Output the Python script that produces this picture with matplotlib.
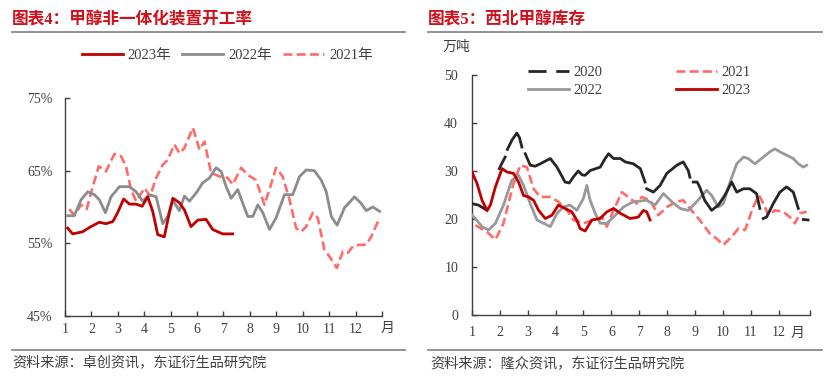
import numpy as np
import matplotlib
matplotlib.use('Agg')
import matplotlib.pyplot as plt
from matplotlib.lines import Line2D

plt.rcParams['font.family'] = ['Liberation Serif', 'Noto Sans CJK SC']
plt.rcParams['axes.unicode_minus'] = False

# ---- left chart: 甲醇非一体化装置开工率 (%) ----
l23_x = [1.10, 1.29, 1.67, 1.98, 2.30, 2.55, 2.81, 2.99, 3.22, 3.44, 3.69, 3.92, 4.13,
         4.32, 4.51, 4.76, 4.95, 5.08, 5.33, 5.52, 5.77, 6.03, 6.34, 6.59, 6.97, 7.35]
l23_y = [57.1, 56.3, 56.6, 57.3, 57.9, 57.7, 58.0, 59.2, 61.1, 60.4, 60.4, 60.1, 61.4,
         59.4, 56.2, 55.9, 59.2, 61.2, 60.6, 59.6, 57.3, 58.2, 58.3, 56.9, 56.3, 56.3]

l22_x = [1.10, 1.35, 1.61, 1.86, 2.11, 2.30, 2.53, 2.74, 3.06, 3.44, 3.69, 3.94, 4.19,
         4.45, 4.70, 4.89, 5.08, 5.33, 5.52, 5.71, 5.96, 6.21, 6.47, 6.72, 6.91, 7.10,
         7.29, 7.54, 7.73, 7.92, 8.11, 8.30, 8.49, 8.74, 8.99, 9.31, 9.62, 9.88, 10.13,
         10.44, 10.70, 10.89, 11.08, 11.30, 11.58, 11.96, 12.21, 12.40, 12.65, 12.91]
l22_y = [58.8, 58.8, 61.0, 62.1, 61.7, 61.0, 59.2, 61.4, 62.8, 62.8, 62.1, 60.8, 61.7,
         61.4, 57.7, 58.7, 60.9, 59.5, 61.5, 60.8, 61.9, 63.3, 64.0, 65.4, 64.9, 62.8,
         61.2, 62.4, 60.5, 58.7, 58.7, 60.3, 59.2, 56.9, 58.5, 61.7, 61.7, 64.2, 65.1,
         65.0, 63.7, 62.1, 58.7, 57.5, 59.9, 61.4, 60.5, 59.5, 60.0, 59.4]

l21_x = [1.16, 1.35, 1.61, 1.82, 2.05, 2.28, 2.55, 2.87, 3.12, 3.31, 3.50, 3.69, 3.82,
         4.01, 4.22, 4.45, 4.70, 4.89, 5.14, 5.33, 5.52, 5.84, 6.09, 6.28, 6.53, 6.85,
         7.16, 7.35, 7.67, 7.92, 8.23, 8.55, 8.74, 8.99, 9.24, 9.50, 9.75, 9.94, 10.13,
         10.38, 10.57, 10.82, 11.01, 11.29, 11.52, 11.71, 11.90, 12.15, 12.40, 12.59, 12.91]
l21_y = [59.7, 58.9, 60.3, 59.7, 62.8, 65.6, 64.9, 67.3, 67.0, 65.6, 62.4, 60.8, 61.5,
         62.6, 61.5, 64.0, 65.8, 66.5, 68.6, 67.4, 68.1, 70.9, 67.9, 69.0, 64.7, 64.2,
         64.0, 63.1, 65.4, 64.4, 63.7, 60.3, 62.4, 65.4, 64.2, 61.0, 57.1, 56.6, 57.3,
         59.2, 58.5, 54.1, 53.2, 51.6, 53.9, 53.7, 54.6, 54.8, 54.8, 55.9, 58.5]

# ---- right chart: 西北甲醇库存 (万吨), nan = break in the 2020 line ----
r20_x = [1.00, 1.23, 1.54, 1.70, 1.98, 2.09, 2.19, 2.23, 2.27, 2.44, 2.61, 2.70, 2.79,
         2.85, 2.91, 3.09, 3.27, 3.45, 3.81, 4.05, 4.34, 4.49, 4.63, 4.81, 4.95, 5.06,
         5.24, 5.60, 5.78, 5.90, 6.08, 6.32, 6.50, 6.79, 7.04, 7.21, 7.24, 7.27, 7.51,
         7.75, 7.99, 8.35, 8.58, 8.76, 8.82, 8.88, 8.94, 9.08, 9.17, 9.35, 9.60, 9.84,
         10.07, 10.32, 10.50, 10.74, 10.97, 11.21, 11.33, 11.39, 11.45, 11.57, 11.81,
         12.05, 12.29, 12.53, 12.71, 12.80, 12.89, 13.06]
r20_y = [23.2, 22.9, 21.8, np.nan, 30.5, 31.8, 32.9, np.nan, 34.5, 36.5, 37.9, 37.0, 35.0,
         np.nan, 33.6, 31.2, 31.0, 31.5, 32.6, 30.8, 27.7, 27.5, 28.7, 30.0, 29.2, 29.1,
         30.1, 30.8, 32.6, 33.6, 32.6, 32.6, 31.9, 31.5, 30.5, 27.7, np.nan, 26.3, 25.6,
         27.0, 29.5, 31.2, 31.9, 30.1, 28.7, np.nan, 27.7, 27.7, 26.7, 23.9, 21.8, 22.9,
         24.9, 27.7, 25.6, 26.3, 26.3, 25.3, 22.2, np.nan, 20.1, 20.4, 23.2,
         25.6, 26.7, 25.6, 22.2, np.nan, 19.9, 19.8]

r21_x = [1.12, 1.54, 1.84, 2.13, 2.49, 2.73, 2.97, 3.21, 3.45, 3.81, 4.10, 4.41, 4.64,
         5.00, 5.36, 5.66, 5.84, 6.08, 6.38, 6.67, 6.91, 7.09, 7.39, 7.69, 7.99, 8.35,
         8.58, 8.82, 9.17, 9.53, 9.78, 10.02, 10.32, 10.56, 10.80, 11.09, 11.30, 11.48,
         11.63, 11.87, 12.17, 12.41, 12.59, 12.77, 13.01]
r21_y = [18.7, 17.3, 15.7, 19.1, 27.4, 31.2, 30.8, 26.3, 24.6, 24.6, 23.6, 21.8, 19.8,
         19.1, 19.8, 20.4, 18.4, 21.8, 25.6, 24.3, 23.2, 24.6, 23.9, 20.8, 22.5, 23.6,
         23.9, 22.2, 19.8, 17.0, 15.9, 14.6, 16.3, 18.0, 17.7, 22.5, 24.9, 23.0,
         20.8, 21.8, 21.5, 20.4, 19.1, 21.2, 21.5]

r22_x = [1.00, 1.12, 1.36, 1.59, 1.84, 2.13, 2.43, 2.67, 2.85, 3.09, 3.33, 3.57, 3.81,
         4.05, 4.28, 4.52, 4.76, 5.00, 5.12, 5.24, 5.42, 5.60, 5.84, 6.08, 6.43, 6.79,
         7.27, 7.57, 7.87, 8.17, 8.47, 8.76, 9.00, 9.17, 9.42, 9.60, 9.84, 10.02, 10.26,
         10.50, 10.74, 10.91, 11.15, 11.39, 11.69, 11.87, 12.05, 12.29, 12.53, 12.71,
         12.89, 13.01]
r22_y = [20.8, 20.1, 18.4, 17.7, 19.1, 22.9, 28.1, 29.1, 27.0, 23.2, 19.8, 19.1, 18.4,
         21.2, 22.5, 22.9, 21.8, 24.3, 27.0, 23.9, 21.2, 19.1, 19.1, 20.4, 22.5, 23.6,
         23.9, 22.9, 25.3, 23.6, 22.2, 21.8, 23.2, 24.3, 26.0, 24.9, 22.5, 23.2, 27.7,
         31.5, 32.9, 32.6, 31.5, 32.6, 34.0, 34.6, 34.0, 33.3, 32.6, 31.5,
         30.8, 31.2]

r23_x = [1.00, 1.18, 1.36, 1.54, 1.66, 1.84, 2.08, 2.25, 2.49, 2.67, 2.85, 3.03, 3.21,
         3.39, 3.63, 3.87, 4.10, 4.34, 4.58, 4.76, 4.88, 5.06, 5.30, 5.60, 5.84, 6.08,
         6.32, 6.67, 6.97, 7.15, 7.27, 7.39]
r23_y = [29.8, 27.4, 23.9, 21.8, 22.9, 26.7, 30.5, 29.8, 29.5, 27.7, 24.9, 24.6, 23.9,
         21.8, 20.1, 20.8, 22.9, 22.2, 21.5, 19.8, 18.0, 17.5, 19.8, 20.1, 21.5, 22.2,
         21.2, 20.1, 20.4, 21.8, 21.5, 19.8]

months = list(range(1, 13))

RED = '#C00000'
PINK = '#FF6B6B'
GRAY = '#8C8C8C'
BLACK = '#262626'
TITLE_RED = '#D0101B'
DASH21 = (0, (3.4, 1.6))

W, H = 837, 382
fig = plt.figure(figsize=(W / 100, H / 100), dpi=100)


def fx(px):
    return px / W


def fy(py):
    return 1 - py / H


def style_axes(ax, ypad, xpad):
    for s in ['top', 'right']:
        ax.spines[s].set_visible(False)
    for s in ['left', 'bottom']:
        ax.spines[s].set_color('#404040')
        ax.spines[s].set_linewidth(1.0)
    ax.tick_params(axis='both', direction='in', length=3.5, width=1.0,
                   color='#404040', labelsize=10, labelcolor='#404040')
    ax.tick_params(axis='y', pad=ypad)
    ax.tick_params(axis='x', pad=xpad)
    ax.patch.set_alpha(0)


# left panel
ax1 = fig.add_axes([fx(65), fy(316), fx(382) - fx(65), fy(98) - fy(316)])
ax1.plot(l21_x, l21_y, color=PINK, lw=1.9, ls=DASH21, label='2021年', zorder=2)
ax1.plot(l22_x, l22_y, color=GRAY, lw=2.0, label='2022年', zorder=3)
ax1.plot(l23_x, l23_y, color=RED, lw=2.0, label='2023年', zorder=4)
ax1.set_xlim(1, 13)
ax1.set_ylim(45, 75)
ax1.set_yticks([45, 55, 65, 75])
ax1.set_yticklabels(['45%', '55%', '65%', '75%'])
ax1.set_xticks(months + [13])
ax1.set_xticklabels([str(m) for m in months] + [''])
style_axes(ax1, ypad=9, xpad=5)
ax1.text(13.2, -0.055, '月', transform=ax1.get_xaxis_transform(), ha='center',
         va='center', fontsize=10, color='#404040')
h, lab = ax1.get_legend_handles_labels()
ax1.legend([h[2], h[1], h[0]], [lab[2], lab[1], lab[0]], ncol=3, frameon=False,
           fontsize=10.5, handlelength=2.8, handletextpad=0.35, columnspacing=0.75,
           loc='center left', bbox_to_anchor=(fx(76), fy(55)),
           bbox_transform=fig.transFigure, borderaxespad=0, labelcolor='#404040')

# right panel
ax2 = fig.add_axes([fx(472), fy(315), fx(810) - fx(472), fy(75) - fy(315)])
ax2.plot(r21_x, r21_y, color=PINK, lw=1.9, ls=DASH21, zorder=2)
ax2.plot(r22_x, r22_y, color='#999999', lw=2.0, zorder=3)
ax2.plot(r20_x, r20_y, color=BLACK, lw=2.0, zorder=4)
ax2.plot(r23_x, r23_y, color=RED, lw=2.0, zorder=5)
ax2.set_xlim(1, 13.13)
ax2.set_ylim(0, 50)
ax2.set_yticks([0, 10, 20, 30, 40, 50])
ax2.set_xticks(months + [13.13])
ax2.set_xticklabels([str(m) for m in months] + [''])
style_axes(ax2, ypad=10, xpad=8)
ax2.text(12.7, -0.075, '月', transform=ax2.get_xaxis_transform(), ha='center',
         va='center', fontsize=10, color='#404040')
ax2.text(fx(443), fy(47), '万吨', transform=fig.transFigure, ha='left', va='center',
         fontsize=10, color='#404040')
handles = [Line2D([], [], color=BLACK, lw=2.0, ls=(0, (6.5, 3.5))),
           Line2D([], [], color='#999999', lw=2.0),
           Line2D([], [], color=PINK, lw=1.9, ls=DASH21),
           Line2D([], [], color=RED, lw=2.0)]
ax2.legend(handles, ['2020', '2022', '2021', '2023'], ncol=2, frameon=False,
           fontsize=10.5, handlelength=2.8, handletextpad=0.35, columnspacing=5.0,
           labelspacing=0.35, loc='upper left', bbox_to_anchor=(fx(522), fy(60)),
           bbox_transform=fig.transFigure, borderaxespad=0, labelcolor='#404040')

# titles, rules and sources
fig.text(fx(12), fy(20), '图表4：甲醇非一体化装置开工率', color=TITLE_RED, fontsize=12,
         fontweight='bold', va='center', ha='left')
fig.text(fx(428), fy(20), '图表5：西北甲醇库存', color=TITLE_RED, fontsize=12,
         fontweight='bold', va='center', ha='left')
for x0, x1 in [(12, 405), (428, 822)]:
    fig.add_artist(Line2D([fx(x0), fx(x1)], [fy(32), fy(32)], color='#8a8a8a', lw=1.3,
                          transform=fig.transFigure))
    fig.add_artist(Line2D([fx(x0), fx(x1)], [fy(350), fy(350)], color='#8a8a8a', lw=1.3,
                          transform=fig.transFigure))
fig.text(fx(12), fy(363), '资料来源：卓创资讯，东证衍生品研究院', color='#404040', fontsize=10.2,
         va='center', ha='left')
fig.text(fx(430), fy(363), '资料来源：隆众资讯，东证衍生品研究院', color='#404040', fontsize=10.2,
         va='center', ha='left')

fig.savefig('out.png', dpi=100)
